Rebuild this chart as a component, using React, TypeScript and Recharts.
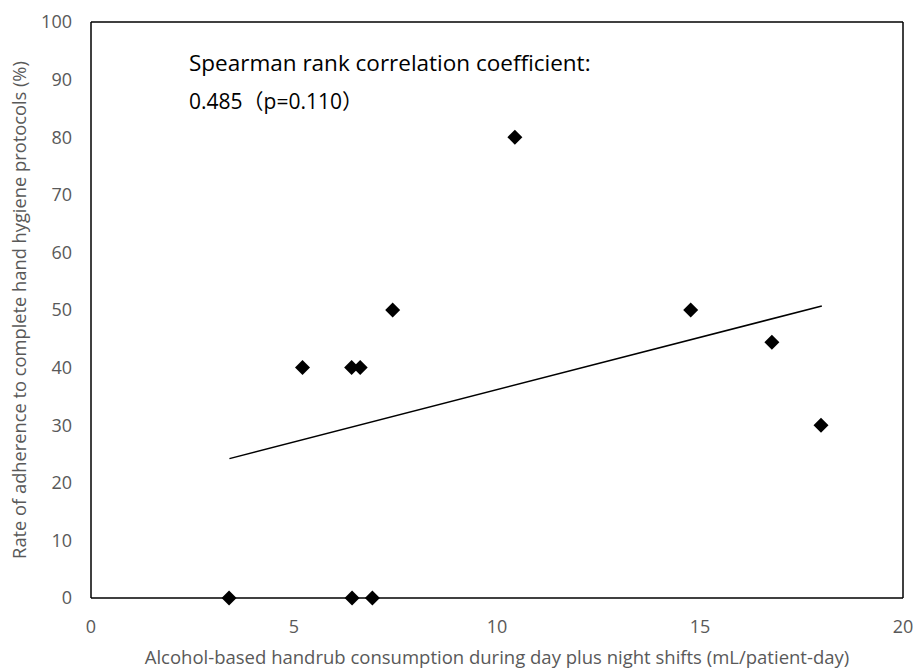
import React from "react";
import {
  ScatterChart,
  Scatter,
  XAxis,
  YAxis,
  ReferenceLine,
  Label,
} from "recharts";

const handrubUse = [3.4, 6.43, 6.93, 5.21, 6.42, 6.63, 7.43, 10.44, 14.77, 16.77, 17.98];
const adherenceRate = [0, 0, 0, 40, 40, 40, 50, 80, 50, 44.4, 30];
const trendX = [3.41, 18.0];
const trendY = [24.2, 50.7];
const xTicks = [0, 5, 10, 15, 20];
const yTicks = [0, 10, 20, 30, 40, 50, 60, 70, 80, 90, 100];

const points = handrubUse.map((x, i) => ({ x, y: adherenceRate[i] }));
const trend = trendX.map((x, i) => ({ x, y: trendY[i] }));

const FONT = "'Open Sans', 'Noto Sans CJK JP', sans-serif";
const GREY = "#595959";

// filled black diamond marker like the excel one
const Diamond = (props: any) => {
  const { cx, cy } = props;
  const r = 7.5;
  return (
    <polygon
      points={`${cx},${cy - r} ${cx + r},${cy} ${cx},${cy + r} ${cx - r},${cy}`}
      fill="#000"
    />
  );
};

const App: React.FC = () => {
  return (
    <div style={{ position: "absolute", left: 0, top: 0, width: 917, height: 668, fontFamily: FONT }}>
      <ScatterChart
        width={917}
        height={668}
        margin={{ top: 22, right: 14, bottom: 0, left: 0 }}
      >
        <XAxis
          type="number"
          dataKey="x"
          domain={[0, 20]}
          ticks={xTicks}
          height={70}
          tickLine={false}
          tickSize={6}
          tickMargin={16}
          fontSize={18}
          axisLine={{ stroke: "#000", strokeWidth: 1.5 }}
          tick={{ fill: GREY, fontSize: 18, fontFamily: FONT }}
        >
          <Label
            value="Alcohol-based handrub consumption during day plus night shifts (mL/patient-day)"
            position="insideBottom"
            offset={4}
            style={{ fill: GREY, fontSize: 18.5, fontFamily: FONT }}
          />
        </XAxis>
        <YAxis
          type="number"
          dataKey="y"
          domain={[0, 100]}
          ticks={yTicks}
          width={91}
          tickLine={false}
          tickSize={6}
          tickMargin={13}
          fontSize={18}
          axisLine={{ stroke: "#000", strokeWidth: 1.5 }}
          tick={{ fill: GREY, fontSize: 18, fontFamily: FONT }}
        />
        <ReferenceLine y={100} stroke="#000" strokeWidth={1.5} />
        <ReferenceLine x={20} stroke="#000" strokeWidth={1.5} />
        <Scatter
          data={trend}
          line={{ stroke: "#000", strokeWidth: 1.5 }}
          shape={() => <g />}
          isAnimationActive={false}
        />
        <Scatter data={points} shape={<Diamond />} isAnimationActive={false} />
      </ScatterChart>
      <div
        style={{
          position: "absolute",
          left: 18,
          top: 310,
          width: 0,
          height: 0,
        }}
      >
        <div
          style={{
            position: "absolute",
            transform: "translate(-50%, -50%) rotate(-90deg)",
            whiteSpace: "nowrap",
            fontSize: 18.3,
            color: GREY,
          }}
        >
          Rate of adherence to complete hand hygiene protocols (%)
        </div>
      </div>
      <div style={{ position: "absolute", left: 189, top: 47, fontSize: 22.5, lineHeight: "32px", whiteSpace: "pre" }}>
        Spearman rank correlation coefficient:
      </div>
      <div style={{ position: "absolute", left: 189, top: 85, fontSize: 21, lineHeight: "32px", whiteSpace: "pre" }}>
        0.485（p=0.110）
      </div>
    </div>
  );
};

export default App;
